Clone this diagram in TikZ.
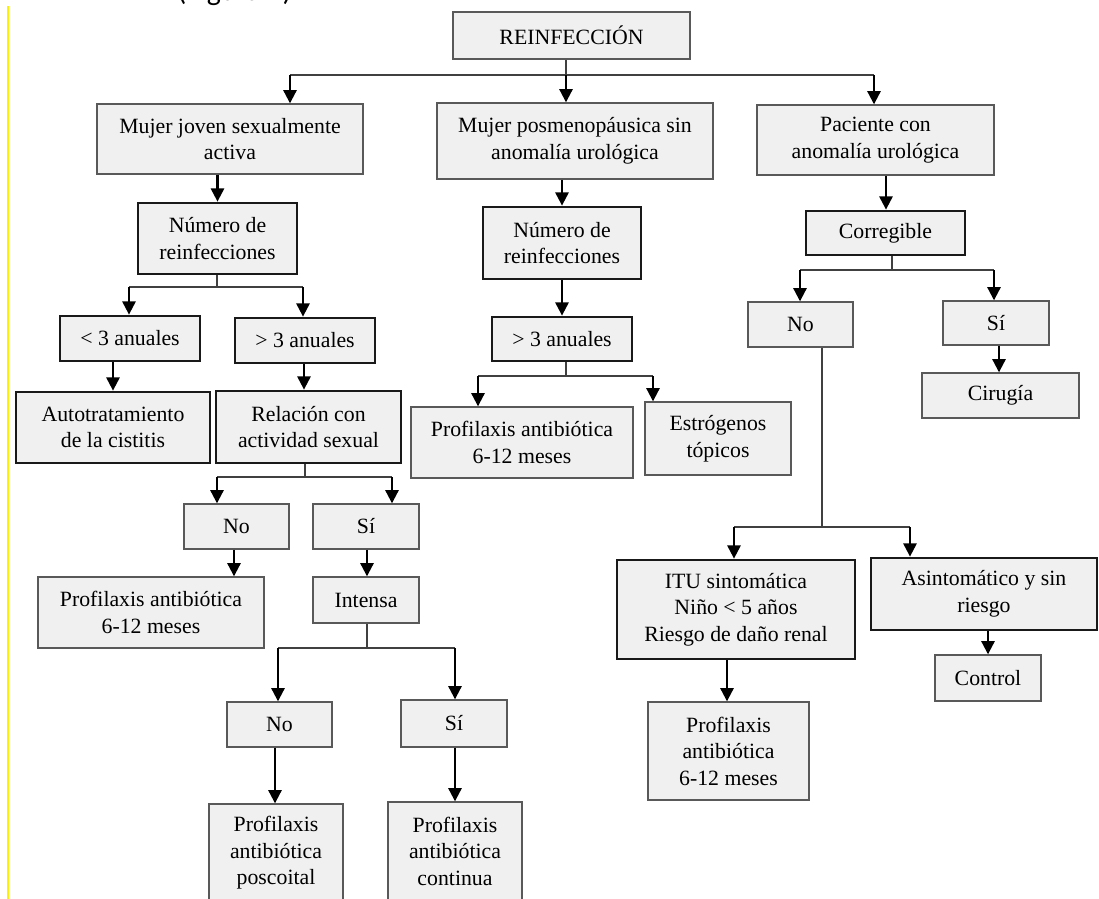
\documentclass[tikz,border=0pt]{standalone}
\usepackage{fontspec}
\setmainfont{Liberation Serif}
\newfontfamily\captionfont{Carlito}
\usepackage{tikz}
\usetikzlibrary{arrows.meta, positioning, calc}

\begin{document}
\begin{tikzpicture}[x=0.02cm, y=-0.02cm,
    box/.style={draw=black!65, line width=0.8pt, fill=gray!12, align=center, inner sep=0pt,
                font=\fontsize{12.4}{15.1}\selectfont},
    kbox/.style={box, draw=black!90, line width=1.6pt},
    line/.style={draw=black!75, line width=0.9pt},
    arr/.style={draw=black, line width=1.2pt, -{Triangle[width=7.5pt,length=7.5pt]}}]
    % page frame (1099 x 899 px)
    \useasboundingbox (0,0) rectangle (1099,899);
    \clip (0,0) rectangle (1099,899);

    % cut caption and margin mark of the page
    \node[anchor=base west, font=\captionfont\fontsize{17}{20}\selectfont, inner sep=0pt] (cap) at (177,1) {(Figura 4)};
    \draw[yellow, line width=1.6pt] (8,6) -- (8,899);

    % root
    \node[box, minimum width=4.74cm, minimum height=0.94cm] (reinf) at (571.5,35.5) {REINFECCIÓN};

    % first level
    \node[box, minimum width=5.32cm, minimum height=1.40cm] (joven) at (230,139) {Mujer joven sexualmente\\activa};
    \node[box, minimum width=5.52cm, minimum height=1.52cm] (posmeno) at (575,141) {Mujer posmenopáusica sin\\anomalía urológica};
    \node[box, minimum width=4.74cm, minimum height=1.40cm] (anomalia) at (875.5,140) {Paciente con\\anomalía urológica};

    % left branch
    \node[kbox, minimum width=3.18cm, minimum height=1.42cm] (numA) at (217.5,238.5) {Número de\\reinfecciones};
    \node[kbox, minimum width=2.80cm, minimum height=0.90cm] (menosA) at (130,338.5) {< 3 anuales};
    \node[kbox, minimum width=2.80cm, minimum height=0.90cm] (masA) at (305,340.5) {> 3 anuales};
    \node[kbox, minimum width=3.88cm, minimum height=1.42cm] (auto) at (113,427.5) {Autotratamiento\\de la cistitis};
    \node[kbox, minimum width=3.70cm, minimum height=1.44cm] (relacion) at (308.5,427) {Relación con\\actividad sexual};
    \node[box, minimum width=2.10cm, minimum height=0.90cm] (noA) at (236.5,526.5) {No};
    \node[box, minimum width=2.12cm, minimum height=0.90cm] (siA) at (366,526.5) {Sí};
    \node[box, minimum width=4.52cm, minimum height=1.42cm] (profA) at (151,612.5) {Profilaxis antibiótica\\6-12 meses};
    \node[box, minimum width=2.12cm, minimum height=0.92cm] (intensa) at (366,600) {Intensa};
    \node[box, minimum width=2.10cm, minimum height=0.90cm] (noB) at (279.5,724.5) {No};
    \node[box, minimum width=2.12cm, minimum height=0.94cm] (siB) at (454,723.5) {Sí};
    \node[box, minimum width=2.68cm, minimum height=1.96cm] (poscoital) at (276,853) {Profilaxis\\antibiótica\\poscoital};
    \node[box, minimum width=2.68cm, minimum height=1.96cm] (continua) at (455,851) {Profilaxis\\antibiótica\\continua};

    % middle branch
    \node[kbox, minimum width=3.16cm, minimum height=1.44cm] (numB) at (562,243) {Número de\\reinfecciones};
    \node[kbox, minimum width=2.80cm, minimum height=0.88cm] (masB) at (562,339) {> 3 anuales};
    \node[box, minimum width=4.44cm, minimum height=1.42cm] (profB) at (522,442.5) {Profilaxis antibiótica\\6-12 meses};
    \node[box, minimum width=2.92cm, minimum height=1.46cm] (estro) at (718,438.5) {Estrógenos\\tópicos};

    % right branch
    \node[kbox, minimum width=3.18cm, minimum height=0.88cm] (corregible) at (885.5,233) {Corregible};
    \node[box, minimum width=2.10cm, minimum height=0.90cm] (noC) at (800.5,324.5) {No};
    \node[box, minimum width=2.12cm, minimum height=0.88cm] (siC) at (996,323) {Sí};
    \node[box, minimum width=3.14cm, minimum height=0.90cm] (cirugia) at (1000.5,395.5) {Cirugía};
    \node[kbox, minimum width=4.76cm, minimum height=1.98cm] (itu) at (736,609.5) {ITU sintomática\\Niño < 5 años\\Riesgo de daño renal};
    \node[kbox, minimum width=4.52cm, minimum height=1.44cm] (asint) at (984,594) {Asintomático y sin\\riesgo};
    \node[box, minimum width=2.12cm, minimum height=0.92cm] (control) at (988,678) {Control};
    \node[box, minimum width=3.22cm, minimum height=1.96cm] (profC) at (728.5,751) {Profilaxis\\antibiótica\\6-12 meses};

    % root -> first level
    \coordinate (r0) at (566,75);
    \coordinate (r1) at (290,75);
    \coordinate (r2) at (874,75);
    \draw[line] (r0 |- reinf.south) -- (r0);
    \draw[line] (r1) -- (r2);
    \draw[arr] (r1) -- (r1 |- joven.north);
    \draw[arr] (r0) -- (r0 |- posmeno.north);
    \draw[arr] (r2) -- (r2 |- anomalia.north);

    % left branch connectors
    \draw[arr] (numA.north |- joven.south) -- (numA.north);
    \coordinate (a0) at (217,287);
    \coordinate (a1) at (129,287);
    \coordinate (a2) at (303,287);
    \draw[line] (a0 |- numA.south) -- (a0);
    \draw[line] (a1) -- (a2);
    \draw[arr] (a1) -- (a1 |- menosA.north);
    \draw[arr] (a2) -- (a2 |- masA.north);
    \draw[arr] (auto.north |- menosA.south) -- (auto.north);
    \draw[arr] (304,0 |- masA.south) -- (304,0 |- relacion.north);
    \coordinate (b0) at (305,477);
    \coordinate (b1) at (217,477);
    \coordinate (b2) at (392,477);
    \draw[line] (b0 |- relacion.south) -- (b0);
    \draw[line] (b1) -- (b2);
    \draw[arr] (b1) -- (b1 |- noA.north);
    \draw[arr] (b2) -- (b2 |- siA.north);
    \draw[arr] (234,0 |- noA.south) -- (234,0 |- profA.north);
    \draw[arr] (367,0 |- siA.south) -- (367,0 |- intensa.north);
    \coordinate (c0) at (367,648);
    \coordinate (c1) at (278,648);
    \coordinate (c2) at (455,648);
    \draw[line] (c0 |- intensa.south) -- (c0);
    \draw[line] (c1) -- (c2);
    \draw[arr] (c1) -- (c1 |- noB.north);
    \draw[arr] (c2) -- (c2 |- siB.north);
    \draw[arr] (275,0 |- noB.south) -- (275,0 |- poscoital.north);
    \draw[arr] (455,0 |- siB.south) -- (455,0 |- continua.north);

    % middle branch connectors
    \draw[arr] (numB.north |- posmeno.south) -- (numB.north);
    \draw[arr] (numB.south) -- (masB.north);
    \coordinate (d0) at (566,376);
    \coordinate (d1) at (478,376);
    \coordinate (d2) at (653,376);
    \draw[line] (d0 |- masB.south) -- (d0);
    \draw[line] (d1) -- (d2);
    \draw[arr] (d1) -- (d1 |- profB.north);
    \draw[arr] (d2) -- (d2 |- estro.north);

    % right branch connectors
    \draw[arr] (886,0 |- anomalia.south) -- (886,0 |- corregible.north);
    \coordinate (e0) at (892,270);
    \coordinate (e1) at (800,270);
    \coordinate (e2) at (994,270);
    \draw[line] (e0 |- corregible.south) -- (e0);
    \draw[line] (e1) -- (e2);
    \draw[arr] (e1) -- (e1 |- noC.north);
    \draw[arr] (e2) -- (e2 |- siC.north);
    \draw[arr] (999,0 |- siC.south) -- (999,0 |- cirugia.north);
    \coordinate (f0) at (822,527);
    \coordinate (f1) at (734,527);
    \coordinate (f2) at (910,527);
    \draw[line] (f0 |- noC.south) -- (f0);
    \draw[line] (f1) -- (f2);
    \draw[arr] (f1) -- (f1 |- itu.north);
    \draw[arr] (f2) -- (f2 |- asint.north);
    \draw[arr] (727,0 |- itu.south) -- (727,0 |- profC.north);
    \draw[arr] (988,0 |- asint.south) -- (988,0 |- control.north);
\end{tikzpicture}
\end{document}
